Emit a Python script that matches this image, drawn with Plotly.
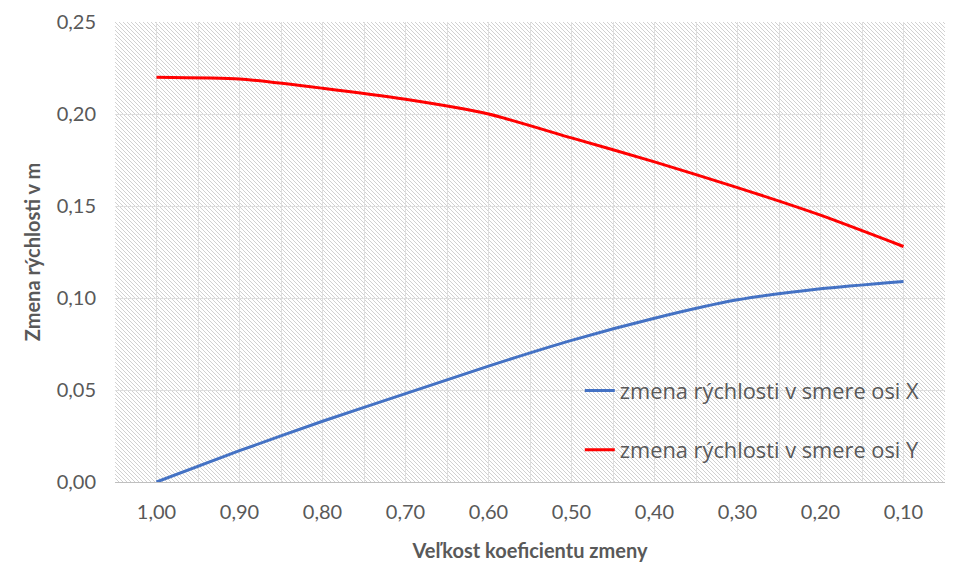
import base64
import plotly.graph_objects as go

categories = ["1,00", "0,90", "0,80", "0,70", "0,60", "0,50", "0,40", "0,30", "0,20", "0,10"]
series_x = [0.000, 0.017, 0.033, 0.048, 0.063, 0.077, 0.089, 0.099, 0.105, 0.109]
series_y = [0.220, 0.219, 0.214, 0.208, 0.200, 0.187, 0.174, 0.160, 0.145, 0.128]
y_ticks = [0.00, 0.05, 0.10, 0.15, 0.20, 0.25]
y_ticktext = ["0,00", "0,05", "0,10", "0,15", "0,20", "0,25"]
name_x = "zmena rýchlosti v smere osi X"
name_y = "zmena rýchlosti v smere osi Y"

W, H = 958, 564
ML, MR, MT, MB = 115, 13, 22, 82
PW, PH = W - ML - MR, H - MT - MB

svg = (
    f'<svg xmlns="http://www.w3.org/2000/svg" width="{PW}" height="{PH}" viewBox="0 0 {PW} {PH}">'
    '<defs><pattern id="p" width="4" height="4" patternUnits="userSpaceOnUse">'
    '<path d="M-1,-1 L5,5 M3,-1 L5,1 M-1,3 L1,5" stroke="#cccccc" stroke-width="0.9"/>'
    '</pattern></defs>'
    f'<rect width="{PW}" height="{PH}" fill="#ffffff"/>'
    f'<rect width="{PW}" height="{PH}" fill="url(#p)"/></svg>'
)
uri = "data:image/svg+xml;base64," + base64.b64encode(svg.encode()).decode()

xpos = list(range(len(categories)))
font = "Lato, 'Open Sans', sans-serif"
grey = "#595959"
grid = "#dedede"

fig = go.Figure()
fig.add_trace(go.Scatter(x=xpos, y=series_x, mode="lines", name=name_x, legendgroup="a",
                         line=dict(color="#4472C4", width=3, shape="spline", smoothing=0.6)))
fig.add_trace(go.Scatter(x=xpos, y=series_y, mode="lines", name=name_y, legendgroup="b",
                         line=dict(color="#FF0000", width=3, shape="spline", smoothing=0.6)))

fig.update_layout(
    width=W, height=H,
    margin=dict(l=ML, r=MR, t=MT, b=MB, autoexpand=False),
    paper_bgcolor="white", plot_bgcolor="rgba(0,0,0,0)",
    font=dict(family=font, size=20, color=grey),
    images=[dict(source=uri, xref="paper", yref="paper", x=0, y=1, sizex=1, sizey=1,
                 xanchor="left", yanchor="top", sizing="stretch", layer="below")],
    legend=dict(x=0.56, y=0.244, xanchor="left", yanchor="top", bgcolor="rgba(0,0,0,0)",
                font=dict(size=21.8, color=grey, family="'Open Sans', sans-serif"),
                tracegroupgap=28),
    xaxis=dict(range=[-0.5, len(categories) - 0.5], tickvals=xpos, ticktext=categories,
               showgrid=True, gridcolor=grid, gridwidth=1,
               minor=dict(tickvals=[i + 0.5 for i in xpos[:-1]], showgrid=True,
                          gridcolor=grid, gridwidth=1),
               showline=True, linecolor="#bfbfbf", linewidth=1, ticks="", zeroline=False,
               ticklabelstandoff=12, automargin=False,
               title=dict(text="<b>Veľkost koeficientu zmeny</b>", standoff=21,
                          font=dict(size=20, color=grey))),
    yaxis=dict(range=[0, 0.25], tickvals=y_ticks, ticktext=y_ticktext,
               showgrid=True, gridcolor=grid, gridwidth=1, zeroline=False,
               showline=False, ticks="", ticklabelstandoff=18, automargin=False,
               title=dict(text="<b>Zmena rýchlosti v m</b>", standoff=10,
                          font=dict(size=20, color=grey))),
)

fig.write_html("out.html")
